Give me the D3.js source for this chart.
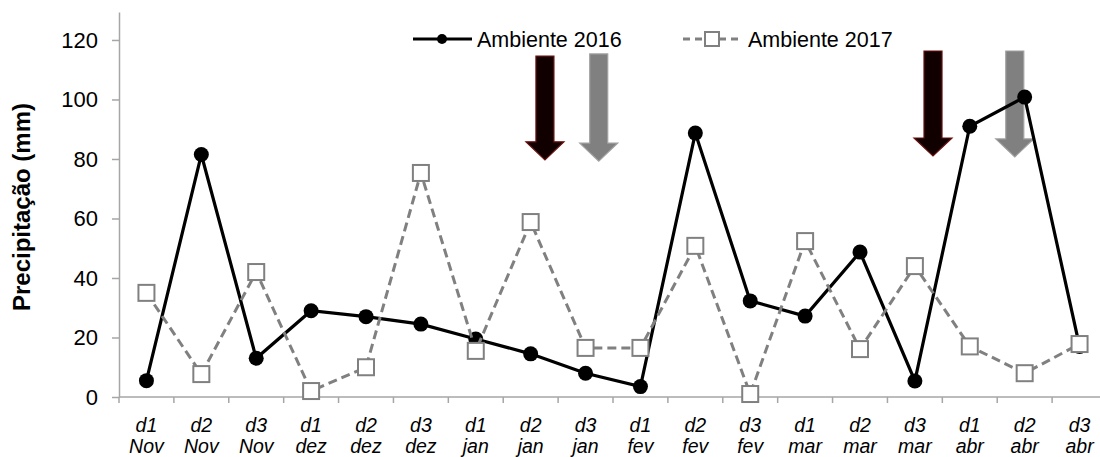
<!DOCTYPE html>
<html><head><meta charset="utf-8">
<script src="https://cdn.jsdelivr.net/npm/d3@7"></script>
<style>body{margin:0;background:#fff}svg{display:block}</style>
</head><body>
<svg id="c" width="1100" height="457"></svg>
<script>
const decades = ["d1","d2","d3","d1","d2","d3","d1","d2","d3","d1","d2","d3","d1","d2","d3","d1","d2","d3"];
const months = ["Nov","Nov","Nov","dez","dez","dez","jan","jan","jan","fev","fev","fev","mar","mar","mar","abr","abr","abr"];
const amb2016 = [5.5,81.5,13,29,27,24.5,19.5,14.5,8,3.5,88.7,32.3,27.2,48.7,5.4,91,100.8,17];
const amb2017 = [35,7.7,42,2,10,75.3,15.5,58.8,16.5,16.5,50.8,1,52.4,16.1,44,17,8,17.8];
const yTicks = [0,20,40,60,80,100,120];
const seriesNames = ["Ambiente 2016","Ambiente 2017"];
// arrows: position in category units (band boundaries), top and tip values
const arrows = [
  {pos:7.76, top:114.6, tip:79.7, kind:"dark"},
  {pos:8.74, top:115.3, tip:79.3, kind:"gray"},
  {pos:14.83, top:116.3, tip:81, kind:"dark"},
  {pos:16.32, top:116.3, tip:80.7, kind:"gray"}
];

const cats = decades.map((d,i)=>i);
const svg = d3.select("#c");
const font = "'Liberation Sans', Arial, sans-serif";
const x = d3.scaleBand().domain(cats).range([119,1107]).padding(0);
const xi = d3.scaleLinear().domain([0,cats.length]).range(x.range());
const y = d3.scaleLinear().domain([0,129.4]).range([397,12]);
const axisColor = "#a6a6a6";

// Y axis
const ya = svg.append("g").attr("transform","translate(119,0)")
  .call(d3.axisLeft(y).tickValues(yTicks).tickSize(7).tickPadding(14).tickSizeOuter(0));
ya.select(".domain").attr("stroke",axisColor).attr("stroke-width",1.5);
ya.selectAll(".tick line").attr("stroke",axisColor).attr("stroke-width",1.5);
ya.selectAll(".tick text").attr("font-family",font).attr("font-size",22).attr("fill","#000");

// X axis line
svg.append("line").attr("x1",x.range()[0]).attr("x2",x.range()[1]).attr("y1",y(0)).attr("y2",y(0))
  .attr("stroke",axisColor).attr("stroke-width",1.5);
const bounds = d3.range(cats.length+1);
svg.selectAll(".xt").data(bounds).join("line")
  .attr("x1",d=>xi(d)).attr("x2",d=>xi(d)).attr("y1",y(0)).attr("y2",y(0)+6)
  .attr("stroke",axisColor).attr("stroke-width",1.5);
const lbl = svg.selectAll(".xl").data(cats).join("text")
  .attr("font-family",font).attr("font-size",19.5).attr("font-style","italic")
  .attr("text-anchor","middle");
lbl.append("tspan").attr("x",d=>x(d)+x.bandwidth()/2).attr("y",432).text(d=>decades[d]);
lbl.append("tspan").attr("x",d=>x(d)+x.bandwidth()/2).attr("y",453).text(d=>months[d]);

// Y title
svg.append("text").attr("transform","translate(30,207) rotate(-90)")
  .attr("text-anchor","middle").attr("font-family",font).attr("font-weight","bold")
  .attr("font-size",24).text("Precipitação (mm)");

// Arrows
const bw = 18, hw = 38, hl = 18;
arrows.forEach(a=>{
  const cx = xi(a.pos), t = y(a.top), p = y(a.tip), hb = p - hl;
  const path = `M${cx-bw/2},${t}L${cx+bw/2},${t}L${cx+bw/2},${hb}L${cx+hw/2},${hb}L${cx},${p}L${cx-hw/2},${hb}L${cx-bw/2},${hb}Z`;
  svg.append("path").attr("d",path)
    .attr("fill",a.kind==="dark"?"#100000":"#808080")
    .attr("stroke",a.kind==="dark"?"#6b0f0f":"#a0a0a0").attr("stroke-width",1.2);
});

const cx = i=>x(i)+x.bandwidth()/2;
const line = d3.line().x((d,i)=>cx(i)).y(d=>y(d));

// 2016
svg.append("path").datum(amb2016).attr("d",line).attr("fill","none")
  .attr("stroke","#000").attr("stroke-width",3.2);
svg.selectAll(".p16").data(amb2016).join("circle")
  .attr("cx",(d,i)=>cx(i)).attr("cy",d=>y(d)).attr("r",7.5).attr("fill","#000");

// 2017
svg.append("path").datum(amb2017).attr("d",line).attr("fill","none")
  .attr("stroke","#808080").attr("stroke-width",3).attr("stroke-dasharray","9,5");
svg.selectAll(".p17").data(amb2017).join("rect")
  .attr("x",(d,i)=>cx(i)-8).attr("y",d=>y(d)-8).attr("width",16).attr("height",16)
  .attr("fill","#fff").attr("stroke","#808080").attr("stroke-width",2);

// Legend
const lg = svg.append("g");
lg.append("line").attr("x1",413).attr("x2",472).attr("y1",39).attr("y2",39).attr("stroke","#000").attr("stroke-width",3.2);
lg.append("circle").attr("cx",442).attr("cy",39).attr("r",5).attr("fill","#000");
lg.append("text").attr("x",477).attr("y",47).attr("font-family",font).attr("font-size",21.5).text(seriesNames[0]);
lg.append("line").attr("x1",683).attr("x2",740).attr("y1",39).attr("y2",39).attr("stroke","#808080").attr("stroke-width",3).attr("stroke-dasharray","7,5");
lg.append("rect").attr("x",705).attr("y",32).attr("width",14).attr("height",14).attr("fill","#fff").attr("stroke","#808080").attr("stroke-width",2);
lg.append("text").attr("x",748).attr("y",47).attr("font-family",font).attr("font-size",21.5).text(seriesNames[1]);
</script>
</body></html>
